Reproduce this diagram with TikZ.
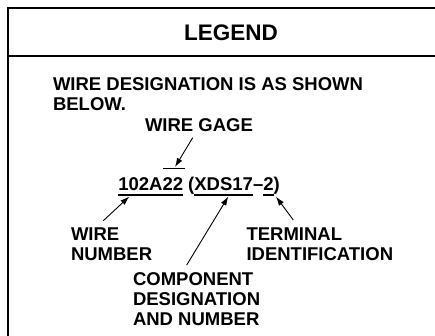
\documentclass[tikz,border=0pt]{standalone}
\usepackage{fontspec}
\setmainfont{Liberation Sans}
\usetikzlibrary{arrows.meta}
\begin{document}
\begin{tikzpicture}[x=1pt,y=-1pt,
  txt/.style={font=\bfseries\fontsize{18.5}{19.6}\selectfont, inner sep=0pt, outer sep=0pt, anchor=base west, align=left},
  titletxt/.style={font=\bfseries\fontsize{22.5}{24}\selectfont, inner sep=0pt, anchor=base},
  framepen/.style={line width=1.8pt},
  ptr/.style={line width=0.9pt, -{Latex[length=9pt,width=6pt]}},
  uline/.style={line width=1.3pt}
]
\useasboundingbox (0,0) rectangle (435,335);
% frame
\draw[framepen] (8,336) -- (8,8) -- (436,8);
\draw[framepen] (8,56) -- (436,56);
% title
\node[titletxt] (title) at (231,40) {LEGEND};
% texts (base anchor = baseline of the last line)
\node[txt] (intro) at (53,110.2) {WIRE DESIGNATION IS AS SHOWN\\BELOW.};
\node[txt] (gage) at (145,131.7) {WIRE GAGE};
\node[txt] (d1) at (118.3,190.5) {102A};
\node[txt] (d2) at (d1.base east) {22};
\node[txt] (d3) at (d2.base east) {\ (};
\node[txt] (d4) at (d3.base east) {XDS17};
\node[txt] (d5) at (d4.base east) {–};
\node[txt] (d6) at (d5.base east) {2};
\node[txt] (d7) at (d6.base east) {)};
\node[txt] (wnum) at (71,260) {WIRE\\NUMBER};
\node[txt] (term) at (246.5,260) {TERMINAL\\IDENTIFICATION};
\node[txt] (comp) at (133,325) {COMPONENT\\DESIGNATION\\AND NUMBER};
% under/over lines
\draw[uline] ([yshift=-4.5pt]d1.base west) -- ([yshift=-4.5pt]d2.base east);
\draw[uline] ([yshift=-4.5pt]d4.base west) -- ([yshift=-4.5pt]d4.base east);
\draw[uline] ([yshift=-4.5pt]d6.base west) -- ([yshift=-4.5pt]d6.base east);
\draw[uline] ([yshift=22pt,xshift=0.8pt]d2.base west) -- ([yshift=22pt,xshift=1.5pt]d2.base east);
% connector ends
\coordinate (gtail) at (192.7,137.7);
\coordinate (gtip) at (175,167);
\coordinate (wtail) at (103.3,220.7);
\coordinate (wtip) at (129.3,196.5);
\coordinate (ctail) at (186.7,265);
\coordinate (ctip) at (228.3,196.5);
\coordinate (ttail) at (293.3,220);
\coordinate (ttip) at (276,196.7);
\draw[ptr] (gtail) -- (gtip);
\draw[ptr] (wtail) -- (wtip);
\draw[ptr] (ctail) -- (ctip);
\draw[ptr] (ttail) -- (ttip);
\end{tikzpicture}
\end{document}
